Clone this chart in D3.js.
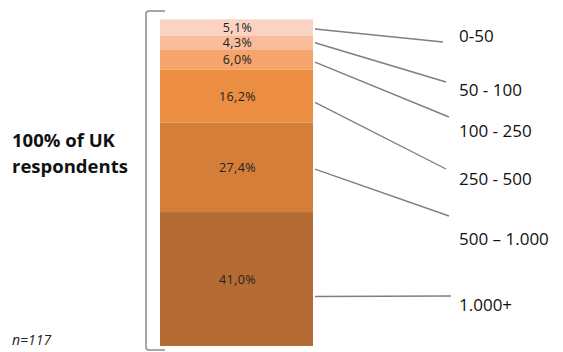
<!DOCTYPE html>
<html>
<head>
<meta charset="utf-8">
<script src="https://cdn.jsdelivr.net/npm/d3@7"></script>
<style>
  html, body { margin: 0; padding: 0; background: #fff; }
  svg { display: block; }
</style>
</head>
<body>
<svg id="chart" width="563" height="352"></svg>
<script>
// Company size bands (employees) and share of respondents, top to bottom
const categories = ["0-50", "50 - 100", "100 - 250", "250 - 500", "500 \u2013 1.000", "1.000+"];
const shares = [5.1, 4.3, 6.0, 16.2, 27.4, 41.0];
const valueLabels = ["5,1%", "4,3%", "6,0%", "16,2%", "27,4%", "41,0%"];
const fills = ["#FBD3C2", "#F9BD9E", "#F5A46B", "#EC8E42", "#D47E3A", "#B56C34"];

const svg = d3.select("#chart");

// Cumulative stacking
let acc = 0;
const segs = shares.map((v, i) => {
  const s = { cat: categories[i], v, label: valueLabels[i], fill: fills[i], y0: acc, y1: acc + v };
  acc += v;
  return s;
});

const y = d3.scaleLinear().domain([0, 100]).range([19.3, 346]);
const x = d3.scaleBand().domain(["UK"]).range([160, 313]).padding(0);

const fontMain = "'Open Sans', 'DejaVu Sans', sans-serif";

// Stacked bar
svg.append("g").selectAll("rect").data(segs).join("rect")
  .attr("x", x("UK"))
  .attr("width", x.bandwidth())
  .attr("y", d => y(d.y0))
  .attr("height", d => y(d.y1) - y(d.y0))
  .attr("fill", d => d.fill);

// Value labels inside segments
svg.append("g").selectAll("text").data(segs).join("text")
  .attr("x", x("UK") + x.bandwidth() / 2 + 1)
  .attr("y", d => (y(d.y0) + y(d.y1)) / 2)
  .attr("dy", "0.36em")
  .attr("text-anchor", "middle")
  .attr("font-family", fontMain)
  .attr("font-size", 12.5)
  .attr("letter-spacing", 0.4)
  .attr("fill", "#222")
  .text(d => d.label);

// Legend labels on the right, connected by leader lines
const labelY = [42, 96, 137, 185, 245, 311];
const lineEnd = [[443, 42], [446, 82], [449, 117], [446, 169], [449, 216], [451, 296]];
// leader start: position within each segment (0 = top, 1 = bottom)
const startFrac = [0.58, 0.48, 0.62, 0.62, 0.52, 0.63];

svg.append("g").selectAll("line").data(segs).join("line")
  .attr("x1", x("UK") + x.bandwidth() + 2)
  .attr("y1", (d, i) => y(d.y0 + d.v * startFrac[i]))
  .attr("x2", (d, i) => lineEnd[i][0])
  .attr("y2", (d, i) => lineEnd[i][1])
  .attr("stroke", "#7f7f7f")
  .attr("stroke-width", 1.4);

svg.append("g").selectAll("text").data(segs).join("text")
  .attr("x", 459)
  .attr("y", (d, i) => labelY[i])
  .attr("font-family", fontMain)
  .attr("font-size", 17)
  .attr("fill", "#111")
  .text(d => d.cat);

// Bracket spanning the bar
svg.append("path")
  .attr("d", "M165,11 L149,11 Q146,11 146,14 L146,347 Q146,350 149,350 L165,350")
  .attr("fill", "none")
  .attr("stroke", "#8a8a8a")
  .attr("stroke-width", 1.5);

// Left caption
const cap = svg.append("text")
  .attr("font-family", fontMain)
  .attr("font-weight", "bold")
  .attr("font-size", 18.5)
  .attr("fill", "#111");
cap.append("tspan").attr("x", 12).attr("y", 147).text("100% of UK");
cap.append("tspan").attr("x", 12).attr("y", 173).text("respondents");

svg.append("text")
  .attr("x", 12).attr("y", 345)
  .attr("font-family", fontMain)
  .attr("font-style", "italic")
  .attr("font-size", 14)
  .attr("fill", "#222")
  .text("n=117");
</script>
</body>
</html>
